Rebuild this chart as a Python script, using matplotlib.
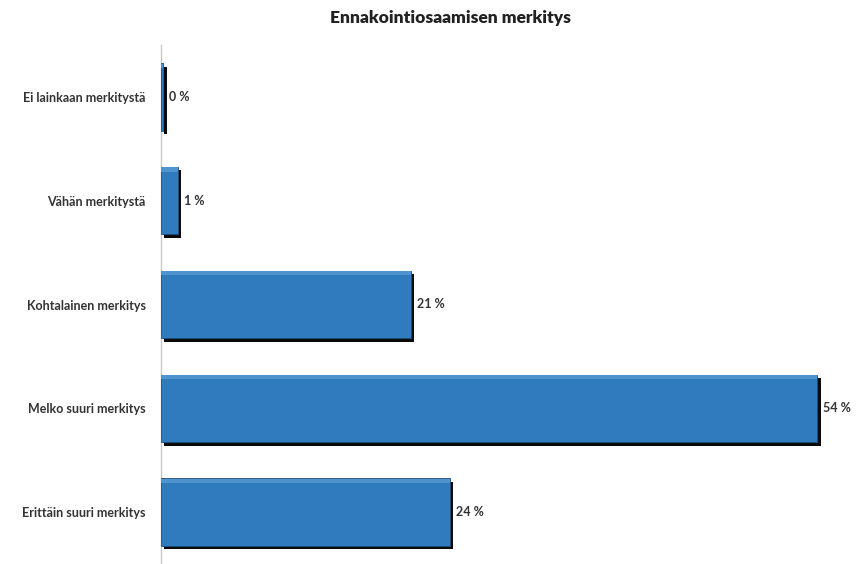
import matplotlib.pyplot as plt
import matplotlib.patheffects as pe

# --- Daten ---
kategoriat = ["Ei lainkaan merkitystä", "Vähän merkitystä", "Kohtalainen merkitys",
              "Melko suuri merkitys", "Erittäin suuri merkitys"]
osuudet = [0.2, 1.4, 20.6, 54.1, 23.8]

plt.rcParams['font.family'] = ['Lato', 'DejaVu Sans']

fig = plt.figure(figsize=(8.6, 5.64), dpi=100)
ax = fig.add_axes([161 / 860, 0.0, (850 - 161) / 860, (564 - 45) / 564])

y = list(range(len(kategoriat)))
shadow = [pe.SimplePatchShadow(offset=(2.5, -2.5), shadow_rgbFace='#0a0a0a', alpha=1.0), pe.Normal()]

ax.barh(y, osuudet, height=0.65, color='#2f7bbd', edgecolor='#1d4f7c',
        linewidth=0.6, path_effects=shadow, zorder=3)
# ohut vaalea korostus palkin yläreunaan
ax.barh([i - 0.65 / 2 + 0.025 for i in y], osuudet, height=0.04, color='#4f93cf',
        linewidth=0, zorder=4)

for i, v in enumerate(osuudet):
    ax.text(v + 0.5, i, f"{v:.0f} %", va='center', ha='left', fontsize=9,
            fontweight='bold', color='#333333')

ax.set_yticks(y)
ax.set_yticklabels(kategoriat, fontsize=9, fontweight='bold', color='#333333')
ax.tick_params(axis='y', length=0, pad=11)
ax.set_xticks([])
ax.set_xlim(0, 56.8)
ax.set_ylim(len(kategoriat) - 0.5, -0.5)

for s in ['top', 'right', 'bottom']:
    ax.spines[s].set_visible(False)
ax.spines['left'].set_color('#c8c8c8')
ax.spines['left'].set_linewidth(1.0)

fig.text(450 / 860, 1 - 18 / 564, "Ennakointiosaamisen merkitys", ha='center', va='center',
         fontsize=12.5, fontweight='heavy', color='#222222')

fig.savefig("out.png", dpi=100)
